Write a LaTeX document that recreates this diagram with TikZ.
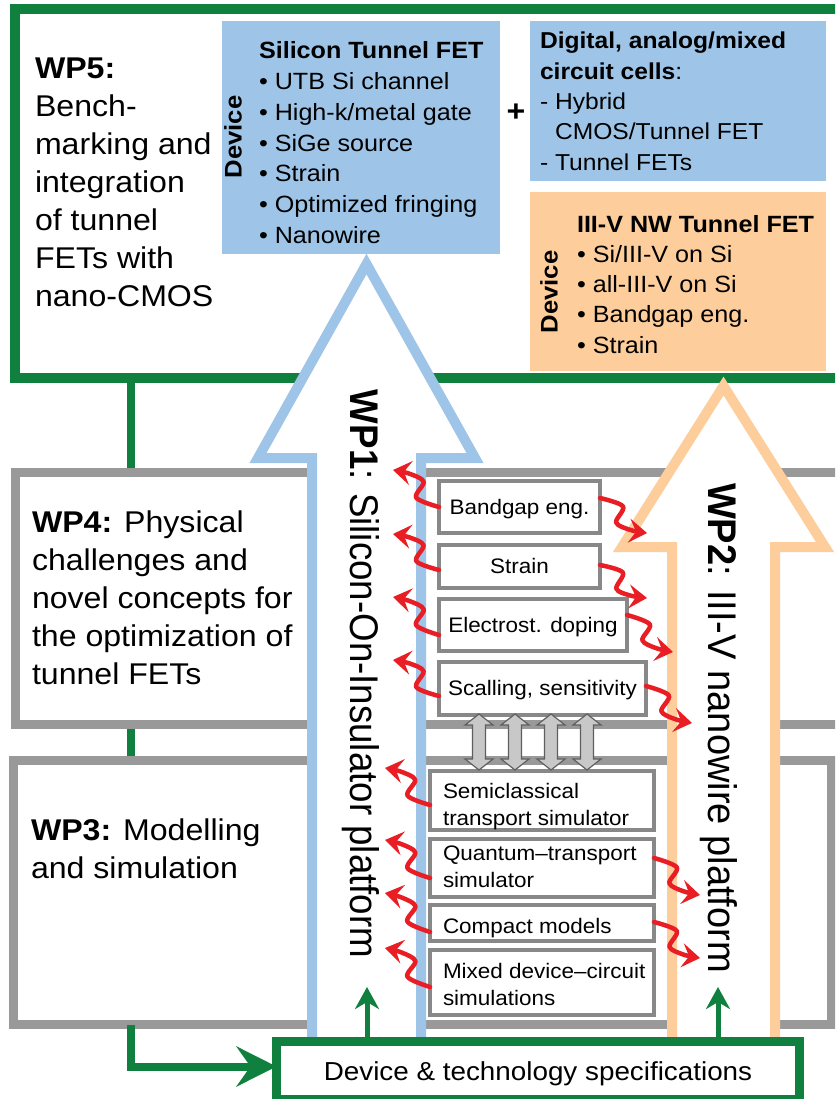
\documentclass[tikz,border=0pt]{standalone}
\usepackage{fontspec}
\usepackage{graphicx}
\setmainfont{Liberation Sans}[FakeStretch=1.07]
\usetikzlibrary{arrows.meta,calc}
\definecolor{gr}{RGB}{16,128,62}
\definecolor{bl}{RGB}{158,197,232}
\definecolor{og}{RGB}{253,205,155}
\definecolor{gf}{RGB}{153,153,153}
\definecolor{gb}{RGB}{136,136,136}
\definecolor{rd}{RGB}{232,30,36}
\definecolor{dfill}{RGB}{200,200,200}
\definecolor{dline}{RGB}{95,95,95}
\newcommand\squig[2]{\draw[wig] plot[smooth, tension=0.55] coordinates {(#1)
  ($(#1)!0.40!(#2)!7pt!90:(#2)$) ($(#1)!0.47!(#2)!10pt!-90:(#2)$)
  ($(#1)!0.74!(#2)!7.5pt!-90:(#2)$) (#2)};}
\begin{document}
\begin{tikzpicture}[x=1pt,y=-1pt,
  every node/.style={inner sep=0pt, outer sep=0pt},
  frm/.style={anchor=north west, line width=#1},
  sbx/.style={draw=gb, line width=4pt, fill=white, anchor=north west},
  ctxt/.style={font=\fontsize{21}{27}\selectfont, text height=14pt, text depth=0pt},
  ltxt/.style={anchor=base west, align=left, font=\fontsize{21}{27}\selectfont},
  bigtxt/.style={anchor=base west, align=left, font=\fontsize{30}{38}\selectfont},
  wig/.style={draw=rd, line width=4.5pt, line cap=round, line join=round,
     -{Stealth[length=18pt,width=24pt,inset=7pt]}},
  gln/.style={draw=gr, line width=8pt},
  garr/.style={gln, -{Stealth[length=40pt,width=40pt,inset=14pt]}},
  sgarr/.style={draw=gr, line width=5pt, -{Stealth[length=22pt,width=24pt,inset=7pt]}},
  dbl/.style={draw=dline, line width=1.2pt, fill=dfill, line join=miter},
  platf/.style={line width=10pt, fill=white, line join=miter}
]
\useasboundingbox (0,0) rectangle (835,1099);
\clip (0,0) rectangle (835,1099);
\fill[white] (0,0) rectangle (835,1099);

% frames
\node[frm=10pt, draw=gr, minimum width=845pt, minimum height=369pt] (wp5) at (15,9) {};
\coordinate (gx) at (131,0);
\node[frm=9pt, draw=gf, minimum width=845pt, minimum height=252pt] (wp4) at (15,472) {};
\node[frm=9pt, draw=gf, minimum width=817.5pt, minimum height=264pt] (wp3) at (13.5,760.5) {};
\draw[gln] (wp5.south -| gx) -- ($(wp4.north -| gx)+(0,-4.5)$);
\draw[gln] ($(wp4.south -| gx)+(0,4.5)$) -- ($(wp3.north -| gx)+(0,-4.5)$);

% top boxes
\node[fill=bl, anchor=north west, minimum width=278pt, minimum height=233pt] (sibox) at (222,21) {};
\node[fill=bl, anchor=north west, minimum width=296pt, minimum height=160pt] (dcbox) at (530,21) {};
\node[fill=og, anchor=north west, minimum width=296pt, minimum height=179pt] (nwbox) at (530,192) {};

% platform arrows
\draw[platf, draw=bl] (312,1042) -- (312,458) -- (258,458) -- (366.5,264) -- (475,458) -- (421,458) -- (421,1042);
\draw[platf, draw=og] (672,1042) -- (672,547) -- (622,547) -- (723.5,386) -- (825,547) -- (775,547) -- (775,1042);

% texts of top boxes (anchor = baseline of the last line)
\node[anchor=base west, align=left, font=\fontsize{23.5}{30.7}\selectfont] (sit) at (259,243.2)
 {\textbf{Silicon Tunnel FET}\\• UTB Si channel\\• High-k/metal gate\\• SiGe source\\• Strain\\• Optimized fringing\\• Nanowire};
\node[rotate=90, font=\bfseries\fontsize{24}{24}\selectfont] (dev1) at (233,137) {Device};
\node[font=\bfseries\fontsize{30}{30}\selectfont] (plus) at (516,113) {+};
\node[anchor=base west, align=left, font=\fontsize{23}{30.3}\selectfont] (dct) at (540,170.2)
 {\textbf{Digital, analog/mixed}\\\textbf{circuit cells}:\\- Hybrid\\\hspace*{15pt}CMOS/Tunnel FET\\- Tunnel FETs};
\node[anchor=base west, align=left, font=\fontsize{23.5}{30.3}\selectfont] (nwt) at (577,353.2)
 {\textbf{III-V NW Tunnel FET}\\• Si/III-V on Si\\• all-III-V on Si\\• Bandgap eng.\\• Strain};
\node[rotate=90, font=\bfseries\fontsize{24}{24}\selectfont] (dev2) at (549,292) {Device};

% WP texts
\node[bigtxt] (t5) at (35,306) {\textbf{WP5:}\\Bench-\\marking and\\integration\\of tunnel\\FETs with\\nano-CMOS};
\node[bigtxt] (t4) at (32,684) {\textbf{WP4:} Physical\\challenges and\\novel concepts for\\the optimization of\\tunnel FETs};
\node[bigtxt] (t3) at (31,878) {\textbf{WP3:} Modelling\\and simulation};

\node[rotate=-90, anchor=base] (w1) at (350,674)
 {\resizebox{568pt}{\height}{\fontsize{40}{40}\selectfont\textbf{WP1}: Silicon-On-Insulator platform}};
\node[rotate=-90, anchor=base] (w2) at (708,728)
 {\resizebox{490pt}{\height}{\fontsize{40}{40}\selectfont\textbf{WP2}: III-V nanowire platform}};

% WP4 small boxes
\node[sbx, ctxt, minimum width=161pt, minimum height=52pt] (bg) at (439,481) {Bandgap eng.};
\node[sbx, ctxt, minimum width=161pt, minimum height=43pt] (st) at (439,545) {Strain};
\node[sbx, ctxt, minimum width=188pt, minimum height=52pt] (ed) at (439,599) {Electrost. doping};
\node[sbx, ctxt, minimum width=207pt, minimum height=53pt] (sc) at (439,662) {Scalling, sensitivity};

% WP3 small boxes
\node[sbx, minimum width=224pt, minimum height=59pt] (semi) at (430,771) {};
\node[sbx, minimum width=224pt, minimum height=58pt] (qt) at (430,839) {};
\node[sbx, minimum width=224pt, minimum height=36pt] (cm) at (430,905) {};
\node[sbx, minimum width=224pt, minimum height=65pt] (mx) at (430,950) {};
\node[ltxt] (semit) at (443,825) {Semiclassical\\transport simulator};
\node[ltxt] (qtt) at (443,887) {Quantum--transport\\simulator};
\node[ltxt] (cmt) at (443,933) {Compact models};
\node[ltxt] (mxt) at (443,1005) {Mixed device--circuit\\simulations};

% double arrows
\foreach \x in {479,515,551,587}{
  \draw[dbl] ({\x-6.5},725) -- ({\x-6.5},759) -- ({\x-14},759) -- (\x,770) -- ({\x+14},759)
    -- ({\x+6.5},759) -- ({\x+6.5},725) -- ({\x+14},725) -- (\x,714) -- ({\x-14},725) -- cycle;
}

% red wiggly arrows: start points on the boxes, free tips
\coordinate (ls1) at (bg.west);
\coordinate (ls2) at ([yshift=-3.5pt]st.west);
\coordinate (ls3) at ([yshift=-10pt]ed.west);
\coordinate (ls4) at ([yshift=-7.5pt]sc.west);
\coordinate (ls5) at ([yshift=-4.5pt]semi.west);
\coordinate (ls6) at ([yshift=-10pt]qt.west);
\coordinate (ls7) at ([yshift=-9pt]cm.west);
\coordinate (ls8) at ([yshift=-4.5pt]mx.west);
\coordinate (l1) at (393,470);
\coordinate (l2) at (393,534);
\coordinate (l3) at (393,597);
\coordinate (l4) at (393,660);
\coordinate (l5) at (385,768);
\coordinate (l6) at (385,840);
\coordinate (l7) at (385,893);
\coordinate (l8) at (385,948);
\foreach \i in {1,...,8}{\squig{ls\i}{l\i}}
\coordinate (rs1) at ([yshift=9pt]bg.east);
\coordinate (rs2) at ([yshift=1.5pt]st.east);
\coordinate (rs3) at ([yshift=10pt]ed.east);
\coordinate (rs4) at ([yshift=2.5pt]sc.east);
\coordinate (rs5) at ([yshift=10pt]qt.east);
\coordinate (rs6) at ([yshift=1pt]cm.east);
\coordinate (r1) at (647,533);
\coordinate (r2) at (647,598);
\coordinate (r3) at (673,652);
\coordinate (r4) at (692,723);
\coordinate (r5) at (700,895);
\coordinate (r6) at (700,958);
\foreach \i in {1,...,6}{\squig{rs\i}{r\i}}

% specification box
\node[frm=9pt, draw=gr, fill=white, minimum width=523pt, minimum height=58pt] (spec) at (276.5,1041.5) {};
\draw[garr] (wp3.south -| gx) |- ([yshift=4pt]spec.west);
\node[font=\fontsize{26}{26}\selectfont, anchor=base] (spect) at (538,1080) {Device \& technology specifications};
\coordinate (a1) at (367,987);
\coordinate (a2) at (718,987);
\draw[sgarr] (a1 |- spec.north) -- (a1);
\draw[sgarr] (a2 |- spec.north) -- (a2);
\end{tikzpicture}
\end{document}
